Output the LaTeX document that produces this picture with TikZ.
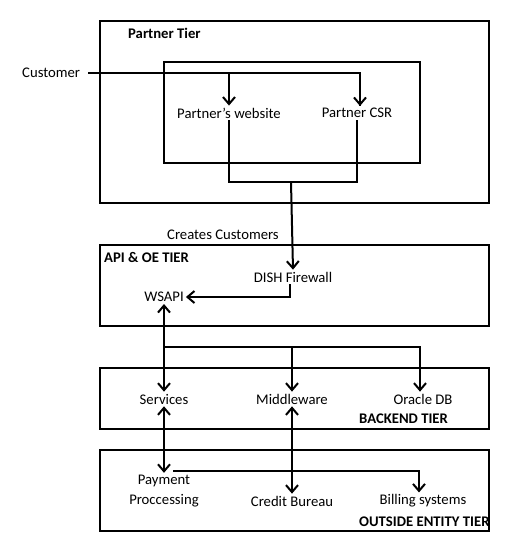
\documentclass[tikz,border=0pt]{standalone}
\usepackage{fontspec}
\setmainfont{Carlito}
\usetikzlibrary{arrows.meta}

\tikzset{
  tierbox/.style={draw, line width=2.4pt},
  item/.style={font=\fontsize{14.7}{20}\selectfont, inner sep=2pt, align=center},
  tierlabel/.style={font=\fontsize{14.7}{17}\selectfont\bfseries, inner sep=0pt, anchor=west},
  link/.style={line width=2pt},
  arrow/.style={link, -{Straight Barb[length=7pt, width=12pt, line width=2pt]}},
  twoway/.style={link, {Straight Barb[length=7pt, width=12pt, line width=2pt]}-{Straight Barb[length=7pt, width=12pt, line width=2pt]}}
}

\begin{document}
\begin{tikzpicture}[x=1pt, y=-1pt]
\useasboundingbox (0,0) rectangle (518,552);

% Tiers
\draw[tierbox] (100,21) rectangle (489,203);
\draw[tierbox] (164,62) rectangle (420,163);
\draw[tierbox] (100,245) rectangle (489,326);
\draw[tierbox] (100,368) rectangle (489,429);
\draw[tierbox] (100,450) rectangle (489,531);

\node[tierlabel] (partnertier) at (128,33) {Partner Tier};
\node[tierlabel] (apitier) at (104,257) {API \& OE TIER};
\node[tierlabel] (backendtier) at (359,419) {BACKEND TIER};
\node[tierlabel] (outsidetier) at (359,522) {OUTSIDE ENTITY TIER};

% Partner tier
\node[item, anchor=west] (cust) at (20,73) {Customer};
\node[item] (web) at (229,113) {Partner's website};
\node[item] (csr) at (357,113) {Partner CSR};
\node[item, anchor=west] (creates) at (165,235) {Creates Customers};

% API & OE tier
\node[item] (fw) at (293,277) {DISH Firewall};
\node[item] (wsapi) at (164,297) {WSAPI};

% Backend tier
\node[item] (svc) at (164,399) {Services};
\node[item] (mid) at (292,399) {Middleware};
\node[item] (odb) at (423,399) {Oracle DB};

% Outside entity tier
\node[item] (pay) at (164,491) {Payment\\Proccessing};
\node[item] (cb) at (292,501) {Credit Bureau};
\node[item] (bill) at (423,501) {Billing systems};

% Connectors
\coordinate (merge) at (291,182);
\coordinate (bus) at (164,347);
\coordinate (payout) at (173,471);

\draw[link] ([xshift=6pt]cust.east) -| ([xshift=3pt]csr.north);
\draw[arrow] ([xshift=3pt]csr.north |- cust.east) -- ([xshift=3pt]csr.north);
\draw[arrow] (web.north |- cust.east) -- (web.north);
\draw[link] (web.south) |- (merge) -| (csr.south);
\draw[arrow] (merge) -- (fw.north);
\draw[arrow] ([xshift=-3pt]fw.south) |- (wsapi.east);
\draw[twoway] (wsapi.south) -- (svc.north);
\draw[arrow] (bus) -| (mid.north);
\draw[arrow] (bus) -| ([xshift=-3pt]odb.north);
\draw[twoway] (svc.south) -- (pay.north);
\draw[twoway] (mid.south) -- (cb.north);
\draw[arrow] (payout) -| ([xshift=-4pt]bill.north);
\end{tikzpicture}
\end{document}
